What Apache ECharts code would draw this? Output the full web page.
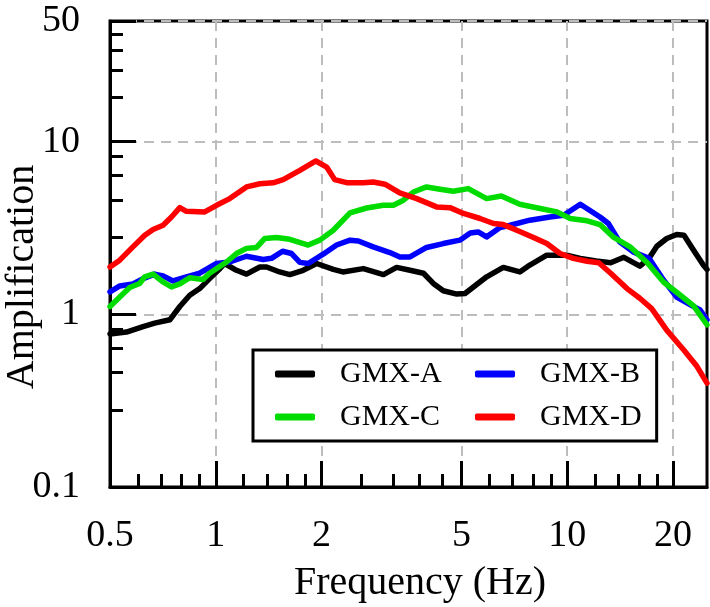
<!DOCTYPE html>
<html>
<head>
<meta charset="utf-8">
<script src="https://cdn.jsdelivr.net/npm/echarts@6/dist/echarts.min.js"></script>
<style>
  html, body { margin: 0; padding: 0; background: #fff; }
  #chart { width: 710px; height: 607px; }
</style>
</head>
<body>
<div id="chart"></div>
<script>
// frequency (Hz) / amplification
var freqA = [0.5, 0.557, 0.621, 0.67, 0.74, 0.79, 0.843, 0.9, 0.96, 1.03, 1.06, 1.145, 1.223, 1.335, 1.395, 1.52, 1.624, 1.773, 1.936, 2.16, 2.3, 2.63, 3.0, 3.27, 3.57, 3.9, 4.16, 4.44, 4.85, 5.12, 5.9, 6.58, 7.33, 7.83, 8.75, 9.97, 10.9, 12.1, 13.3, 14.5, 16.1, 17.1, 18.0, 19.2, 20.5, 21.5, 22.9, 24.4, 25]
var ampA = [0.77, 0.79, 0.85, 0.89, 0.93, 1.11, 1.29, 1.41, 1.61, 1.85, 1.97, 1.8, 1.71, 1.88, 1.88, 1.76, 1.7, 1.8, 1.97, 1.82, 1.76, 1.84, 1.7, 1.87, 1.8, 1.73, 1.51, 1.37, 1.31, 1.32, 1.65, 1.87, 1.76, 1.93, 2.2, 2.2, 2.11, 2.04, 1.99, 2.14, 1.9, 2.11, 2.48, 2.75, 2.9, 2.87, 2.35, 1.93, 1.82]

var freqB = [0.5, 0.533, 0.581, 0.621, 0.67, 0.708, 0.756, 0.825, 0.9, 1.005, 1.096, 1.223, 1.364, 1.441, 1.549, 1.643, 1.735, 1.832, 2.021, 2.207, 2.41, 2.546, 2.806, 3.13, 3.34, 3.57, 3.98, 4.44, 4.95, 5.3, 5.58, 5.9, 6.44, 6.88, 7.83, 8.93, 9.77, 10.9, 12.4, 13.1, 14.1, 15.4, 17.1, 18.8, 20.5, 22.5, 23.9, 25]
var ampB = [1.35, 1.46, 1.5, 1.61, 1.71, 1.67, 1.56, 1.65, 1.73, 1.97, 2.01, 2.17, 2.08, 2.11, 2.32, 2.25, 2.0, 1.97, 2.23, 2.52, 2.69, 2.66, 2.46, 2.28, 2.15, 2.15, 2.44, 2.57, 2.69, 2.96, 3.0, 2.81, 3.18, 3.28, 3.51, 3.66, 3.75, 4.34, 3.66, 3.36, 2.63, 2.3, 2.11, 1.58, 1.26, 1.13, 1.06, 0.93]

var freqC = [0.5, 0.533, 0.569, 0.607, 0.628, 0.663, 0.708, 0.748, 0.79, 0.843, 0.92, 0.96, 1.073, 1.145, 1.223, 1.306, 1.379, 1.489, 1.624, 1.832, 1.978, 2.16, 2.41, 2.686, 2.995, 3.2, 3.42, 3.65, 3.98, 4.35, 4.74, 5.23, 5.9, 6.5, 7.33, 8.38, 9.35, 10.2, 11.4, 12.4, 13.5, 15.1, 16.9, 18.8, 21.0, 22.9, 25]
var ampC = [1.11, 1.26, 1.43, 1.51, 1.65, 1.71, 1.54, 1.44, 1.5, 1.63, 1.59, 1.73, 2.01, 2.25, 2.41, 2.44, 2.75, 2.79, 2.72, 2.52, 2.69, 3.07, 3.87, 4.13, 4.28, 4.28, 4.58, 5.11, 5.47, 5.3, 5.16, 5.35, 4.68, 4.85, 4.34, 4.1, 3.92, 3.59, 3.48, 3.31, 2.81, 2.46, 1.99, 1.54, 1.29, 1.12, 0.87]

var freqD = [0.5, 0.533, 0.581, 0.628, 0.663, 0.708, 0.748, 0.79, 0.825, 0.93, 1.005, 1.096, 1.223, 1.335, 1.456, 1.555, 1.735, 1.927, 2.068, 2.18, 2.357, 2.63, 2.806, 3.03, 3.34, 3.73, 4.25, 4.64, 5.07, 5.65, 6.17, 6.58, 7.19, 8.02, 8.75, 9.55, 10.4, 11.4, 12.3, 13.3, 14.8, 16.1, 17.4, 19.2, 21.5, 23.4, 25]
var ampD = [1.88, 2.06, 2.46, 2.87, 3.1, 3.28, 3.66, 4.15, 3.95, 3.92, 4.28, 4.68, 5.47, 5.71, 5.78, 6.03, 6.82, 7.73, 7.13, 6.03, 5.79, 5.78, 5.84, 5.67, 5.05, 4.68, 4.19, 4.15, 3.84, 3.59, 3.36, 3.31, 3.07, 2.79, 2.57, 2.25, 2.11, 2.03, 1.99, 1.73, 1.41, 1.24, 1.08, 0.81, 0.62, 0.5, 0.4]

var seriesNames = ['GMX-A', 'GMX-B', 'GMX-C', 'GMX-D']
var seriesColors = ['#000000', '#0000ff', '#00dc00', '#ff0000']

var xMajor = [0.5, 1, 2, 5, 10, 20]
var xMinor = [0.6, 0.7, 0.8, 0.9, 1.2, 1.4, 1.6, 1.8, 2.6, 3.2, 3.8, 4.4, 6, 7, 8, 9, 12, 14, 16, 18]
var yMajor = [0.1, 1, 10, 50]
var yMinor = [0.28, 0.46, 0.64, 0.82, 2.8, 4.6, 6.4, 8.2, 18, 26, 34, 42]

var FONT = 'Liberation Serif'

function pairs (xs, ys) {
  return xs.map(function (x, i) { return [x, ys[i]] })
}

var myChart = echarts.init(document.getElementById('chart'), null, { renderer: 'canvas' })

var tickLabel = {
  color: '#000',
  fontFamily: FONT,
  fontSize: 38
}

myChart.setOption({
  animation: false,
  backgroundColor: '#fff',
  grid: {
    left: 110,
    right: 3,
    top: 21,
    bottom: 120,
    outerBoundsMode: 'none',
    containLabel: false,
    show: true,
    borderColor: '#000',
    borderWidth: 3
  },
  legend: [
    {
      data: ['GMX-A', 'GMX-C'],
      orient: 'vertical',
      left: 253,
      top: 350,
      padding: [7, 215, 7, 22],
      itemWidth: 40,
      itemHeight: 7,
      itemGap: 9,
      icon: 'roundRect',
      borderColor: '#000',
      borderWidth: 3,
      borderRadius: 0,
      backgroundColor: '#fff',
      selectedMode: false,
      textStyle: { fontFamily: FONT, fontSize: 30, color: '#000', lineHeight: 34, padding: [0, 0, 0, 20] }
    },
    {
      data: ['GMX-B', 'GMX-D'],
      orient: 'vertical',
      left: 475,
      top: 357,
      padding: 0,
      itemWidth: 40,
      itemHeight: 7,
      itemGap: 9,
      icon: 'roundRect',
      selectedMode: false,
      textStyle: { fontFamily: FONT, fontSize: 30, color: '#000', lineHeight: 34, padding: [0, 0, 0, 20] }
    }
  ],
  xAxis: [
    {
      type: 'log',
      logBase: 10,
      min: 0.5,
      max: 25,
      name: 'Frequency (Hz)',
      nameLocation: 'middle',
      nameGap: 76,
      nameMoveOverlap: false,
      nameTextStyle: { fontFamily: FONT, fontSize: 40, color: '#000', padding: [0, 0, 0, 23] },
      axisLine: { show: true, lineStyle: { color: '#000', width: 3 } },
      axisTick: { show: true, inside: true, length: 26, customValues: xMajor, lineStyle: { color: '#000', width: 3 } },
      minorTick: { show: false },
      axisLabel: Object.assign({ margin: 30, customValues: xMajor, formatter: function (v) { return String(v) } }, tickLabel),
      splitLine: { show: true, lineStyle: { color: '#bdbdbd', width: 2, type: [10, 7] } }
    },
    {
      type: 'log',
      logBase: 10,
      min: 0.5,
      max: 25,
      position: 'bottom',
      axisLine: { show: false },
      axisTick: { show: true, inside: true, length: 13, customValues: xMinor, lineStyle: { color: '#000', width: 3 } },
      axisLabel: { show: false },
      splitLine: { show: false }
    }
  ],
  yAxis: [
    {
      type: 'log',
      logBase: 10,
      min: 0.1,
      max: 50,
      name: 'Amplification',
      nameLocation: 'middle',
      nameGap: 68,
      nameMoveOverlap: false,
      nameTextStyle: { fontFamily: FONT, fontSize: 40, color: '#000', padding: [0, 46, 0, 0] },
      axisLine: { show: true, lineStyle: { color: '#000', width: 3 } },
      axisTick: { show: true, inside: true, length: 26, customValues: yMajor, lineStyle: { color: '#000', width: 3 } },
      minorTick: { show: false },
      axisLabel: Object.assign({ margin: 30, customValues: yMajor, formatter: function (v) { return String(v) } }, tickLabel),
      splitLine: { show: true, lineStyle: { color: '#bdbdbd', width: 2, type: [10, 7] } }
    },
    {
      type: 'log',
      logBase: 10,
      min: 0.1,
      max: 50,
      position: 'left',
      axisLine: { show: false },
      axisTick: { show: true, inside: true, length: 13, customValues: yMinor, lineStyle: { color: '#000', width: 3 } },
      axisLabel: { show: false },
      splitLine: { show: false }
    }
  ],
  series: [
    [freqA, ampA],
    [freqB, ampB],
    [freqC, ampC],
    [freqD, ampD]
  ].map(function (d, i) {
    return {
      name: seriesNames[i],
      type: 'line',
      xAxisIndex: 0,
      yAxisIndex: 0,
      data: pairs(d[0], d[1]),
      showSymbol: false,
      symbol: 'none',
      color: seriesColors[i],
      lineStyle: { width: 5.5, color: seriesColors[i], cap: 'round', join: 'round' },
      z: 2 + i
    }
  })
})

window.addEventListener('resize', function () {
  myChart.resize()
})
</script>
</body>
</html>
